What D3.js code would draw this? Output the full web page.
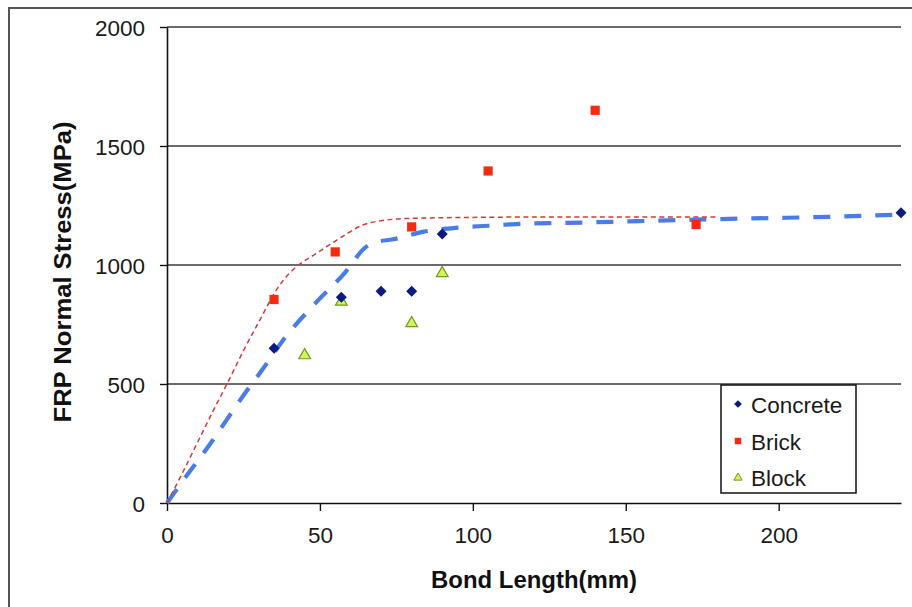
<!DOCTYPE html>
<html>
<head>
<meta charset="utf-8">
<script src="https://cdn.jsdelivr.net/npm/d3@7"></script>
<style>
  html, body { margin: 0; padding: 0; background: #fff; }
  svg { display: block; font-family: "Liberation Sans", Arial, sans-serif; }
</style>
</head>
<body>
<svg id="chart" width="912" height="607"></svg>
<script>
// Measured specimens: bond length (mm) vs FRP normal stress (MPa)
const concreteX = [35, 57, 70, 80, 90, 240];
const concreteY = [650, 865, 890, 890, 1130, 1220];
const brickX = [35, 55, 80, 105, 140, 173];
const brickY = [855, 1055, 1160, 1395, 1650, 1170];
const blockX = [45, 57, 80, 90];
const blockY = [625, 850, 760, 970];

// Model curves
const brickModelX = [0, 5, 10, 15, 20, 25, 30, 36, 40, 43, 48, 53, 59, 64, 70, 80, 100, 130, 180];
const brickModelY = [0, 125, 255, 385, 510, 640, 760, 900, 965, 1000, 1042, 1084, 1133, 1168, 1186, 1196, 1200, 1202, 1202];
const concreteModelX = [0, 7, 13.5, 19.5, 25.5, 31.5, 38, 49, 58, 65, 68, 74, 84, 95, 105, 114, 138, 178, 229, 240];
const concreteModelY = [0, 125, 237, 349, 461, 566, 685, 846, 965, 1075, 1095, 1108, 1140, 1157, 1165, 1172, 1179, 1192, 1207, 1212];

const xTicks = [0, 50, 100, 150, 200];
const yTicks = [0, 500, 1000, 1500, 2000];
const legendNames = ["Concrete", "Brick", "Block"];

const svg = d3.select("#chart");

const x = d3.scaleLinear().domain([0, 240]).range([167, 901]);
const y = d3.scaleLinear().domain([0, 2000]).range([503, 27]);

// outer chart frame
svg.append("rect")
  .attr("x", 9).attr("y", 8).attr("width", 920).attr("height", 620)
  .attr("fill", "none").attr("stroke", "#555").attr("stroke-width", 2);

// horizontal gridlines
svg.append("g").selectAll("line")
  .data(yTicks.filter(d => d > 0))
  .join("line")
  .attr("x1", x(0)).attr("x2", x(240))
  .attr("y1", d => y(d)).attr("y2", d => y(d))
  .attr("stroke", "#3a3a3a").attr("stroke-width", 1.6);

// y axis
const yAxis = svg.append("g")
  .attr("transform", `translate(${x(0)},0)`)
  .call(d3.axisLeft(y).tickValues(yTicks).tickFormat(d3.format("d"))
    .tickSize(7).tickSizeOuter(0).tickPadding(15));
yAxis.select(".domain").attr("stroke", "#111").attr("stroke-width", 1.6);
yAxis.selectAll(".tick line").attr("stroke", "#111").attr("stroke-width", 1.4);
yAxis.selectAll(".tick text")
  .attr("font-size", 22.5).attr("fill", "#1a1a1a")
  .attr("font-family", "Liberation Sans, Arial, sans-serif")
  .attr("dy", "0.36em");

// x axis
const xAxis = svg.append("g")
  .attr("transform", `translate(0,${y(0)})`)
  .call(d3.axisBottom(x).tickValues(xTicks).tickFormat(d3.format("d"))
    .tickSize(8).tickSizeOuter(0).tickPadding(16));
xAxis.select(".domain").attr("stroke", "#111").attr("stroke-width", 1.6);
xAxis.selectAll(".tick line").attr("stroke", "#111").attr("stroke-width", 1.4);
xAxis.selectAll(".tick text")
  .attr("font-size", 22.5).attr("fill", "#1a1a1a")
  .attr("font-family", "Liberation Sans, Arial, sans-serif")
  .attr("dy", "0.71em");

// axis titles
svg.append("text")
  .attr("x", 534).attr("y", 588)
  .attr("text-anchor", "middle")
  .attr("font-size", 23.5).attr("font-weight", "bold").attr("fill", "#111")
  .attr("textLength", 206).attr("lengthAdjust", "spacingAndGlyphs")
  .text("Bond Length(mm)");

svg.append("text")
  .attr("transform", "translate(71,272) rotate(-90)")
  .attr("text-anchor", "middle")
  .attr("font-size", 24).attr("font-weight", "bold").attr("fill", "#111")
  .attr("textLength", 301).attr("lengthAdjust", "spacingAndGlyphs")
  .text("FRP Normal Stress(MPa)");

// model curves
const line = d3.line().x(d => x(d[0])).y(d => y(d[1])).curve(d3.curveMonotoneX);

svg.append("path")
  .datum(d3.zip(concreteModelX, concreteModelY))
  .attr("d", line)
  .attr("fill", "none").attr("stroke", "#4a7ce6")
  .attr("stroke-width", 4.2).attr("stroke-dasharray", "17,14");

svg.append("path")
  .datum(d3.zip(brickModelX, brickModelY))
  .attr("d", line)
  .attr("fill", "none").attr("stroke", "#d23a3a")
  .attr("stroke-width", 1.5).attr("stroke-dasharray", "5,3.5");

// marker shapes
const diamond = s => `M0,${-s}L${s},0L0,${s}L${-s},0Z`;
const square = s => `M${-s},${-s}H${s}V${s}H${-s}Z`;
const triangle = s => `M0,${-s}L${s * 1.05},${s * 0.8}H${-s * 1.05}Z`;

const styles = {
  Concrete: { path: diamond, size: 5.5, fill: "#0b1a7e", stroke: "none" },
  Brick: { path: square, size: 4.6, fill: "#f52a10", stroke: "none" },
  Block: { path: triangle, size: 5.6, fill: "#d6f25a", stroke: "#6f9a1e" }
};

function drawSeries(xs, ys, st) {
  svg.append("g").selectAll("path")
    .data(d3.zip(xs, ys))
    .join("path")
    .attr("transform", d => `translate(${x(d[0])},${y(d[1])})`)
    .attr("d", st.path(st.size))
    .attr("fill", st.fill)
    .attr("stroke", st.stroke)
    .attr("stroke-width", 1.2);
}
drawSeries(blockX, blockY, styles.Block);
drawSeries(concreteX, concreteY, styles.Concrete);
drawSeries(brickX, brickY, styles.Brick);

// legend
const legend = svg.append("g");
legend.append("rect")
  .attr("x", 721).attr("y", 385).attr("width", 135).attr("height", 108)
  .attr("fill", "#fff").attr("stroke", "#111").attr("stroke-width", 1.5);

const rowY = [404, 441, 477];
legendNames.forEach((name, i) => {
  const st = styles[name];
  legend.append("path")
    .attr("transform", `translate(738,${rowY[i]})`)
    .attr("d", st.path(st.size * 0.7))
    .attr("fill", st.fill).attr("stroke", st.stroke).attr("stroke-width", 1);
  legend.append("text")
    .attr("x", 751).attr("y", rowY[i] + 8.5)
    .attr("font-size", 22.5).attr("fill", "#1a1a1a")
    .text(name);
});
</script>
</body>
</html>
